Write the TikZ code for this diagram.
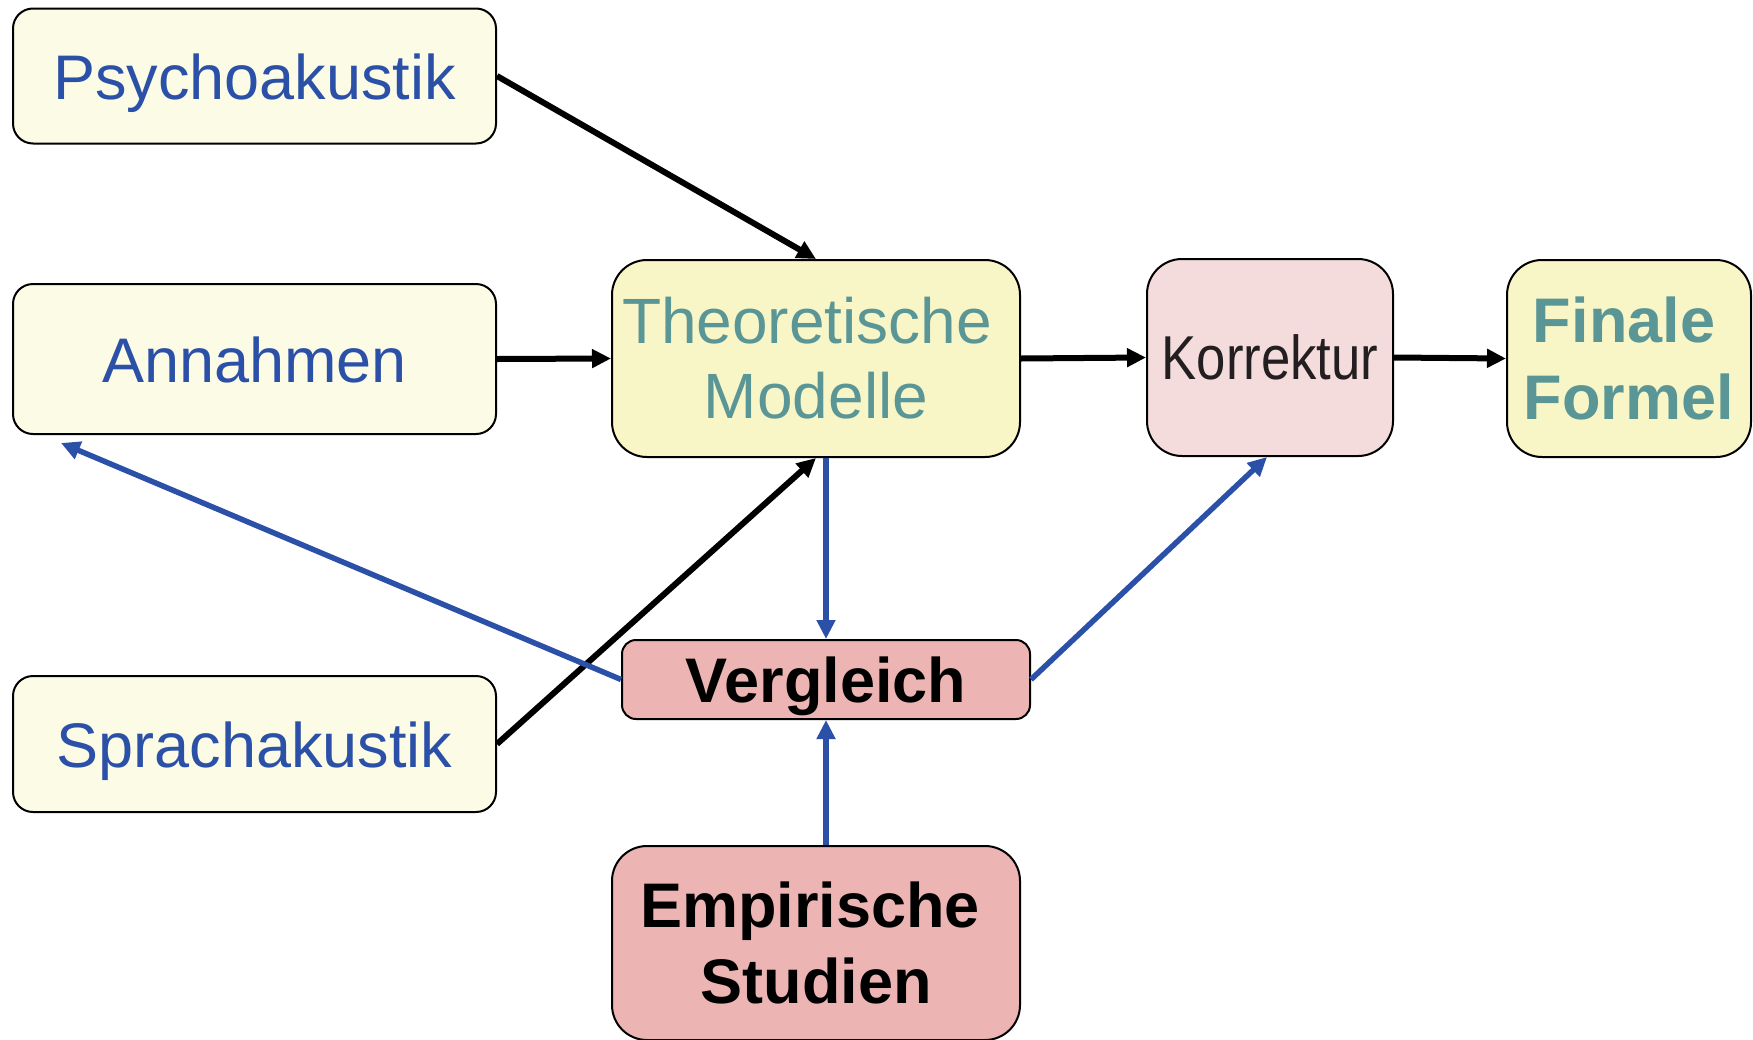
\documentclass[tikz,border=0pt]{standalone}
\usepackage{fontspec}
\setmainfont{Liberation Sans}
\usetikzlibrary{arrows.meta,calc}
\definecolor{pale}{HTML}{FCFBE6}
\definecolor{yel}{HTML}{F8F6C6}
\definecolor{pinkl}{HTML}{F4DCDC}
\definecolor{pinkd}{HTML}{ECB4B2}
\definecolor{blu}{HTML}{2B50A8}
\definecolor{tealt}{HTML}{5A9696}
\definecolor{dark}{HTML}{231F20}
\begin{document}
\begin{tikzpicture}[x=1pt,y=-1pt,
  box/.style={draw=black,line width=2pt,inner sep=0pt,align=center,
    font=\fontsize{63}{75}\selectfont},
  oneline/.style={text height=46pt,text depth=0pt},
  leftbox/.style={box,oneline,fill=pale,text=blu,minimum width=483pt,rounded corners=20pt},
  bigbox/.style={box,minimum width=408pt,minimum height=197pt,rounded corners=35pt},
  blk/.style={draw=black,line width=6pt,-{Triangle[length=19pt,width=18pt]}},
  bl/.style={draw=blu,line width=5.5pt,-{Triangle[length=19pt,width=18pt]}}]
\useasboundingbox (0,0) rectangle (1753,1039);

\node[leftbox,minimum height=135pt] (psy) at (254.5,76) {Psychoakustik};
\node[leftbox,minimum height=150pt] (ann) at (254.5,359) {Annahmen};
\node[leftbox,minimum height=136pt] (spr) at (254.5,744) {Sprachakustik};

\node[bigbox,fill=yel,text=tealt,font=\fontsize{64}{75}\selectfont] (theo) at (816,358.5) {Theoretische\hspace*{18pt}\\Modelle};
\node[box,fill=pinkl,text=dark,minimum width=246pt,minimum height=197pt,rounded corners=35pt]
  (korr) at (1270,357.5) {\fontsize{62}{75}\selectfont\scalebox{0.85}[1]{Korrektur}};
\node[box,fill=yel,text=tealt,minimum width=244pt,minimum height=197pt,rounded corners=35pt,
  font=\fontsize{63}{77}\selectfont\bfseries] (fin) at (1629,358.5) {Finale\hspace*{10pt}\\Formel};

\node[box,oneline,fill=pinkd,text=black,minimum width=408pt,minimum height=79pt,rounded corners=14pt,
  font=\fontsize{63}{75}\selectfont\bfseries] (verg) at (826,679.5) {Vergleich};
\node[bigbox,fill=pinkd,text=black,minimum height=194pt,
  font=\fontsize{63}{76}\selectfont\bfseries] (emp) at (816,943) {Empirische\hspace*{12pt}\\Studien};

\coordinate (annb) at (61,443);

\draw[blk] (psy.east) -- (theo.north);
\draw[blk] (ann.east) -- (theo.west);
\draw[blk] (spr.east) -- (theo.south);
\draw[blk] (theo.east) -- (korr.west);
\draw[blk] (korr.east) -- (fin.west);

\draw[bl] (verg.north |- theo.south) -- (verg.north);
\draw[bl] (verg.south |- emp.north) -- (verg.south);
\draw[bl] (verg.west) -- (annb);
\draw[bl] (verg.east) -- ($(korr.south)+(-3,0)$);
\end{tikzpicture}
\end{document}
